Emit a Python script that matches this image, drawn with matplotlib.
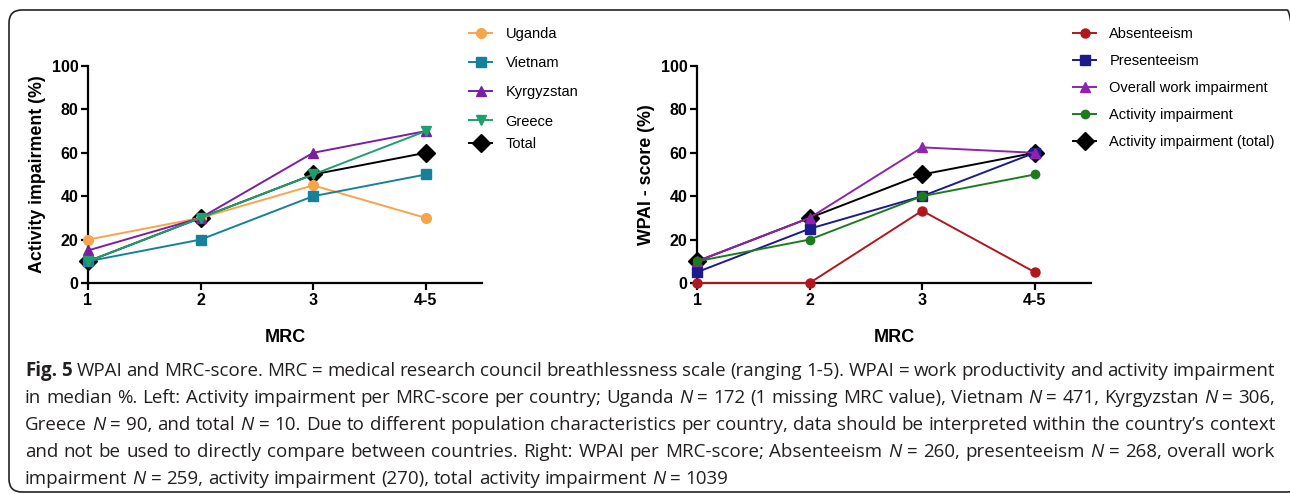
import matplotlib
matplotlib.use('Agg')
import matplotlib.pyplot as plt
from matplotlib.patches import FancyBboxPatch
from matplotlib.transforms import IdentityTransform

# x categories (MRC score)
mrc = ['1', '2', '3', '4-5']

# left panel: activity impairment per country (%)
uganda = [20, 30, 45, 30]
vietnam = [10, 20, 40, 50]
kyrgyzstan = [15, 30, 60, 70]
greece = [10, 30, 50, 70]
total = [10, 30, 50, 60]

# right panel: WPAI score (%)
absenteeism = [0, 0, 33.3, 5]
presenteeism = [5, 25, 40, 60]
overall_work = [10, 30, 62.5, 60]
activity = [10, 20, 40, 50]
activity_total = [10, 30, 50, 60]

caption = [
    "Fig. 5 WPAI and MRC-score. MRC = medical research council breathlessness scale (ranging 1-5). WPAI = work productivity and activity impairment",
    "in median %. Left: Activity impairment per MRC-score per country; Uganda N = 172 (1 missing MRC value), Vietnam N = 471, Kyrgyzstan N = 306,",
    "Greece N = 90, and total N = 10. Due to different population characteristics per country, data should be interpreted within the country\u2019s context",
    "and not be used to directly compare between countries. Right: WPAI per MRC-score; Absenteeism N = 260, presenteeism N = 268, overall work",
    "impairment N = 259, activity impairment (270), total activity impairment N = 1039",
]

W, H = 1290, 494
plt.rcParams['font.family'] = ['Liberation Sans', 'DejaVu Sans']
fig = plt.figure(figsize=(W / 100, H / 100), dpi=100)


def px(x0, y0, x1, y1):
    return [x0 / W, 1 - y1 / H, (x1 - x0) / W, (y1 - y0) / H]


ax1 = fig.add_axes(px(88, 66, 482, 283))
ax2 = fig.add_axes(px(697, 66, 1091, 283))
x = list(range(len(mrc)))


def style(ax, ylabel):
    ax.set_xlim(0, 3.5)
    ax.set_ylim(0, 100)
    ax.set_xticks(x)
    ax.set_xticklabels(mrc)
    ax.set_yticks(range(0, 101, 20))
    ax.spines['top'].set_visible(False)
    ax.spines['right'].set_visible(False)
    ax.spines['left'].set_linewidth(1.6)
    ax.spines['bottom'].set_linewidth(1.6)
    ax.tick_params(width=1.6, length=5, labelsize=11.5, pad=2)
    for lab in ax.get_xticklabels() + ax.get_yticklabels():
        lab.set_fontweight('bold')
    ax.set_xlabel('MRC', fontsize=13, fontweight='bold')
    ax.xaxis.label.set_va('center')
    ax.xaxis.set_label_coords(0.5, -0.249)
    ax.set_ylabel(ylabel, fontsize=12.8, fontweight='bold')
    ax.yaxis.label.set_va('center')
    ax.yaxis.set_label_coords(-0.129, 0.5)
    ax.patch.set_visible(False)


def series(ax, y, color, marker, ms, label):
    line, = ax.plot(x, y, color=color, marker=marker, markersize=ms, lw=1.4,
                    label=label, clip_on=False, zorder=3)
    return line


# total first so the country markers sit on top of it
h_total = series(ax1, total, 'black', 'D', 9, 'Total')
h_ug = series(ax1, uganda, '#F7A54A', 'o', 7, 'Uganda')
h_vn = series(ax1, vietnam, '#16819A', 's', 6.5, 'Vietnam')
h_kg = series(ax1, kyrgyzstan, '#7B1FA2', '^', 7, 'Kyrgyzstan')
h_gr = series(ax1, greece, '#1F9E6E', 'v', 7, 'Greece')
style(ax1, 'Activity impairment (%)')

h_at = series(ax2, activity_total, 'black', 'D', 9, 'Activity impairment (total)')
h_ab = series(ax2, absenteeism, '#B0171C', 'o', 6.5, 'Absenteeism')
h_pr = series(ax2, presenteeism, '#1B1B8C', 's', 6.5, 'Presenteeism')
h_ow = series(ax2, overall_work, '#8E24AA', '^', 6.5, 'Overall work impairment')
h_ac = series(ax2, activity, '#1F7A1F', 'o', 6, 'Activity impairment')
style(ax2, 'WPAI - score (%)')

leg_kw = dict(loc='upper left', frameon=False, fontsize=10.5, handlelength=1.6,
              handletextpad=0.9, borderaxespad=0, borderpad=0, numpoints=1)
fig.legend(handles=[h_ug, h_vn, h_kg, h_gr],
           bbox_to_anchor=(469 / W, 1 - 27 / H), labelspacing=1.04, **leg_kw)
fig.legend(handles=[h_total],
           bbox_to_anchor=(469 / W, 1 - 137 / H), **leg_kw)
fig.legend(handles=[h_ab, h_pr, h_ow, h_ac, h_at],
           bbox_to_anchor=(1073 / W, 1 - 27 / H), labelspacing=0.89, **leg_kw)

# rounded frame around the figure panel
box = FancyBboxPatch((9, H - 492), 1300 - 9, 492 - 10,
                     boxstyle='round,pad=0,rounding_size=13',
                     transform=IdentityTransform(), fill=False,
                     edgecolor='#222222', lw=1.2)
fig.add_artist(box)

# justified caption, word by word
r = fig.canvas.get_renderer()
cap_font = ['Open Sans', 'DejaVu Sans']
x_left, x_right = 25, 1275


def caption_words(size):
    rows = []
    for i, line in enumerate(caption):
        texts = []
        for j, w in enumerate(line.split(' ')):
            weight = 'bold' if (i == 0 and j < 2) else 'normal'
            fstyle = 'italic' if w == 'N' else 'normal'
            texts.append(fig.text(0, 0, w, fontsize=size, family=cap_font,
                                  fontweight=weight, style=fstyle, va='center',
                                  ha='left', color='#231f20'))
        rows.append(texts)
    return rows


def space_width(size):
    a = fig.text(0, 0, 'a a', fontsize=size, family=cap_font)
    b = fig.text(0, 0, 'aa', fontsize=size, family=cap_font)
    s = a.get_window_extent(r).width - b.get_window_extent(r).width
    a.remove()
    b.remove()
    return s


cap_size = 13.5
rows = caption_words(cap_size)
space = space_width(cap_size)
need = max(sum(t.get_window_extent(r).width for t in row) + (len(row) - 1) * space * 0.8
           for row in rows[:-1])
if need > x_right - x_left:
    for row in rows:
        for t in row:
            t.remove()
    cap_size = cap_size * (x_right - x_left) / need
    rows = caption_words(cap_size)
    space = space_width(cap_size)

for i, texts in enumerate(rows):
    y = 371 + 27 * i
    widths = [t.get_window_extent(r).width for t in texts]
    if i < len(rows) - 1:
        gap = (x_right - x_left - sum(widths)) / (len(texts) - 1)
    else:
        gap = space
    xpos = x_left
    for t, wd in zip(texts, widths):
        t.set_position((xpos / W, 1 - y / H))
        xpos += wd + gap

fig.savefig('out.png', dpi=100)
